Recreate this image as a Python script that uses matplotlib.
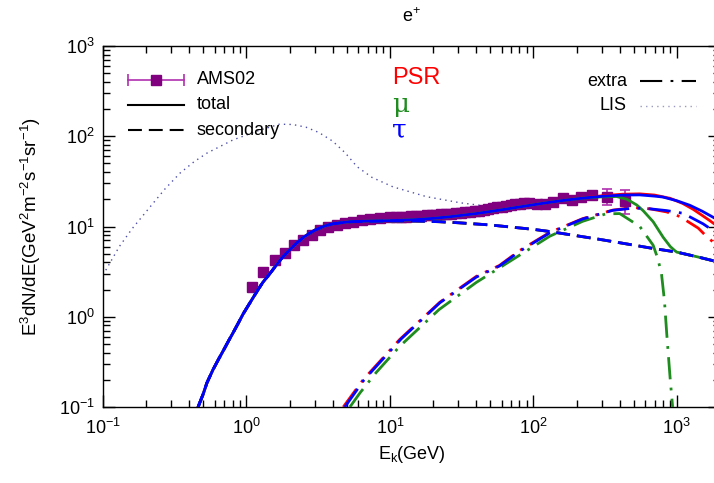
import numpy as np
import matplotlib
matplotlib.use("Agg")
import matplotlib.pyplot as plt
from matplotlib.ticker import LogLocator, NullFormatter

plt.rcParams["font.family"] = "Liberation Sans"
plt.rcParams["mathtext.fontset"] = "custom"
plt.rcParams["mathtext.rm"] = "Liberation Sans"
plt.rcParams["mathtext.it"] = "Liberation Sans:italic"
plt.rcParams["lines.scale_dashes"] = False

# ── AMS02 positron data (E^3 flux) ───────────────────────────────────────────
ams_E = [1.10, 1.31, 1.58, 1.85, 2.15, 2.49, 2.85, 3.25, 3.72, 4.25, 4.85, 5.55,
         6.34, 7.26, 8.5, 10.0, 11.0, 12.0, 13.0, 14.1, 15.3, 16.6, 18.0, 19.5,
         21.1, 22.8, 24.7, 26.7, 28.8, 31.1, 33.5, 36.1, 38.9, 41.9, 45.1, 48.5,
         52.2, 56.1, 60.3, 64.8, 69.7, 74.9, 80.5, 86.5, 93.0, 106, 120, 137,
         160, 185, 215, 255, 325, 435]
ams_F = [2.16, 3.16, 4.27, 5.14, 6.25, 7.1, 8.07, 9.17, 9.8, 10.4, 10.9, 11.3,
         11.8, 12.0, 12.4, 12.7, 12.8, 12.9, 12.9, 13.0, 13.1, 13.2, 13.3, 13.4,
         13.5, 13.6, 13.7, 13.8, 14.0, 14.1, 14.3, 14.5, 14.7, 14.9, 15.3, 15.6,
         16.0, 16.3, 16.6, 16.8, 17.2, 17.6, 17.9, 18.1, 18.0, 17.6, 17.8, 18.5,
         20.5, 19.5, 21.2, 22.5, 21.3, 19.0]
ams_lo = [0.1] * 50 + [1.0, 1.8, 3.8, 5.4]
ams_hi = [0.1] * 50 + [1.0, 1.8, 4.5, 6.1]

# ── common low-energy part of the total / secondary ──────────────────────────
low_E = [0.46, 0.50, 0.53, 0.585, 0.64, 0.70, 0.75, 0.805, 0.87, 0.95, 1.02,
         1.10, 1.20, 1.30, 1.50, 1.75, 2.00, 2.25, 2.50, 2.75, 3.00, 3.50,
         4.00, 5.00]
low_F = [0.10, 0.14, 0.185, 0.26, 0.34, 0.44, 0.54, 0.66, 0.83, 1.08, 1.3,
         1.58, 1.98, 2.4, 3.2, 4.4, 5.5, 6.6, 7.6, 8.4, 9.1, 10.1,
         10.7, 11.2]

# total, shared by all three models up to ~200 GeV
tot_mid_E = [6.5, 10.0, 15.0, 20.0, 26.0, 40.0, 60.0, 77.0, 120.0, 160.0]
tot_mid_F = [11.45, 11.6, 11.9, 12.3, 12.8, 13.9, 15.3, 16.3, 18.2, 19.4]

# total tails above 200 GeV
psr_tail_E = [220, 300, 420, 550, 700, 900, 1100, 1300, 1500, 1700, 2000]
psr_tail_F = [20.7, 21.9, 22.8, 23.0, 22.3, 20.5, 18.0, 15.5, 13.3, 11.6, 9.6]
mu_tail_E = [220, 300, 380, 450, 526, 582, 684, 803, 900, 968, 1000, 1400, 2000]
mu_tail_F = [20.6, 21.3, 21.5, 20.0, 17.3, 15.0, 11.3, 7.6, 6.0, 5.4, 5.2, 4.6, 4.0]
tau_tail_E = [220, 300, 420, 550, 700, 800, 1000, 1230, 1500, 1800, 2000]
tau_tail_F = [20.6, 21.6, 22.3, 22.4, 21.7, 21.2, 19.3, 17.2, 14.8, 12.6, 11.4]

# secondary
sec_tail_E = [6.5, 10, 15, 22, 30, 50, 100, 130, 200, 290, 450, 645, 1000, 1400, 2000]
sec_tail_F = [11.4, 11.5, 11.5, 11.3, 11.0, 10.4, 9.3, 8.8, 7.9, 7.2, 6.4, 5.8, 5.2, 4.6, 4.0]

# extra components
psr_ex_E = [4.73, 6.5, 11.7, 22.3, 40, 58, 80, 130, 220, 358, 500, 650, 850, 1050, 1410, 1620, 2000]
psr_ex_F = [0.1, 0.2, 0.56, 1.45, 2.8, 3.7, 5.4, 8.6, 12.2, 15.2, 16.2, 15.7, 14.5, 12.9, 9.6, 7.7, 5.8]
tau_ex_E = [4.85, 6.6, 12.0, 22.3, 40, 58, 80, 130, 220, 358, 500, 650, 850, 1107, 1525, 2000]
tau_ex_F = [0.1, 0.2, 0.57, 1.43, 2.75, 3.65, 5.3, 8.5, 12.1, 15.1, 16.0, 15.7, 15.0, 14.0, 10.7, 8.0]
mu_ex_E = [5.26, 6.2, 8.0, 11.7, 22, 40, 80, 130, 220, 320, 400, 470, 552, 684, 730, 780, 820, 850, 900, 935]
mu_ex_F = [0.1, 0.144, 0.24, 0.47, 1.2, 2.4, 4.8, 7.8, 11.4, 13.8, 13.9, 11.8, 10.0, 6.2, 4.6, 3.1, 1.5, 0.66, 0.2, 0.1]

# LIS
lis_E = [0.1, 0.13, 0.16, 0.213, 0.27, 0.344, 0.43, 0.53, 0.805, 1.24, 1.7, 2.1,
         2.6, 3.2, 4.0, 4.9, 5.9, 7.5, 10.5, 18, 31, 52, 80, 100]
lis_F = [2.9, 6.0, 9.5, 16.5, 26, 39, 52, 65, 91, 117, 136, 135,
         126, 110, 88, 65, 46, 35, 27.5, 21.4, 18.3, 16.5, 17.0, 18.0]

C_PSR, C_MU, C_TAU = "#ff0000", "#1e8c1e", "#0000ff"
C_AMS, C_AMS_ERR = "#800080", "#b030b0"
C_LIS = "#5050a8"

DASH_SEC = (0, (10, 5))
DASH_EX = (0, (16, 6, 2, 6))
LW = 2.0

# ── figure ────────────────────────────────────────────────────────────────────
fig = plt.figure(figsize=(7.14, 4.83), dpi=100)
ax = fig.add_axes([103 / 714, 76 / 483, 617 / 714, 361 / 483])

ax.plot(lis_E, lis_F, color=C_LIS, lw=1.0, ls=(0, (1, 3)), zorder=1)

ams_err = [np.array(ams_lo), np.array(ams_hi)]
ax.errorbar(ams_E, ams_F, yerr=ams_err, fmt="s", ms=7.2, color=C_AMS,
            ecolor=C_AMS_ERR, elinewidth=1.2, capsize=3.5, capthick=1.2,
            mec=C_AMS, zorder=2)

models = [
    (C_PSR, psr_tail_E, psr_tail_F, psr_ex_E, psr_ex_F),
    (C_MU, mu_tail_E, mu_tail_F, mu_ex_E, mu_ex_F),
    (C_TAU, tau_tail_E, tau_tail_F, tau_ex_E, tau_ex_F),
]
for i, (c, tE, tF, xE, xF) in enumerate(models):
    z = 3 + i
    ax.plot(low_E + tot_mid_E + tE, low_F + tot_mid_F + tF, color=c, lw=LW, zorder=z)
    ax.plot(low_E + sec_tail_E, low_F + sec_tail_F, color=c, lw=LW, ls=DASH_SEC, zorder=z)
    ax.plot(xE, xF, color=c, lw=LW, ls=DASH_EX, zorder=z)

ax.set_xscale("log")
ax.set_yscale("log")
ax.set_xlim(0.1, 2000)
ax.set_ylim(0.1, 1000)

for axis in (ax.xaxis, ax.yaxis):
    axis.set_major_locator(LogLocator(base=10, numticks=10))
    axis.set_minor_locator(LogLocator(base=10, subs=np.arange(2, 10), numticks=20))
    axis.set_minor_formatter(NullFormatter())

ax.tick_params(which="both", direction="in", top=True, right=True, width=1.0,
               labelsize=13)
ax.tick_params(which="major", length=8.5)
ax.tick_params(which="minor", length=5)
ax.tick_params(axis="x", pad=8)
ax.tick_params(axis="y", pad=6)
for sp in ax.spines.values():
    sp.set_linewidth(1.0)

ax.set_title(r"e$^{+}$", fontsize=13, pad=17)
ax.set_xlabel(r"E$_{\rm k}$(GeV)", fontsize=13, labelpad=4)
ax.set_ylabel(r"E$^{3}$dN/dE(GeV$^{2}$m$^{-2}$s$^{-1}$sr$^{-1}$)", fontsize=13.5)
ax.yaxis.set_label_coords(-0.097, 0.5)

# ── legends drawn by hand (gnuplot style) ─────────────────────────────────────
T = ax.transAxes
hx0, hx1, tx = 0.0405, 0.131, 0.152
rows = [0.906, 0.837, 0.767]
ax.plot([hx0, hx1], [rows[0]] * 2, transform=T, color=C_AMS_ERR, lw=1.2, zorder=6)
ax.plot([hx0, hx1], [rows[0]] * 2, transform=T, ls="none", marker="|", ms=8,
        mew=1.2, color=C_AMS_ERR, zorder=6)
ax.plot([(hx0 + hx1) / 2], [rows[0]], transform=T, ls="none", marker="s", ms=7.2,
        color=C_AMS, zorder=7)
ax.text(tx, rows[0], "AMS02", transform=T, fontsize=13, va="center", ha="left")
ax.plot([hx0, hx1], [rows[1]] * 2, transform=T, color="black", lw=1.5)
ax.text(tx, rows[1], "total", transform=T, fontsize=13, va="center", ha="left")
ax.plot([hx0, hx1], [rows[2]] * 2, transform=T, color="black", lw=1.5, ls=DASH_SEC)
ax.text(tx, rows[2], "secondary", transform=T, fontsize=13, va="center", ha="left")

ax.text(0.468, 0.911, "PSR", transform=T, fontsize=17, color=C_PSR, va="center", ha="left")
ax.text(0.468, 0.838, "\u03bc", transform=T, fontsize=19, color=C_MU, va="center",
        ha="left", family="DejaVu Serif")
ax.text(0.468, 0.766, "\u03c4", transform=T, fontsize=19, color=C_TAU, va="center",
        ha="left", family="DejaVu Serif")

rx0, rx1, rtx = 0.870, 0.961, 0.849
ax.plot([rx0, rx1], [0.903] * 2, transform=T, color="black", lw=1.5, ls=DASH_EX)
ax.text(rtx, 0.903, "extra", transform=T, fontsize=13, va="center", ha="right")
ax.plot([rx0, rx1], [0.834] * 2, transform=T, color="#9a9ac0", lw=1.0, ls=(0, (1, 3)))
ax.text(rtx, 0.834, "LIS", transform=T, fontsize=13, va="center", ha="right")

fig.savefig("out.png", dpi=100)
